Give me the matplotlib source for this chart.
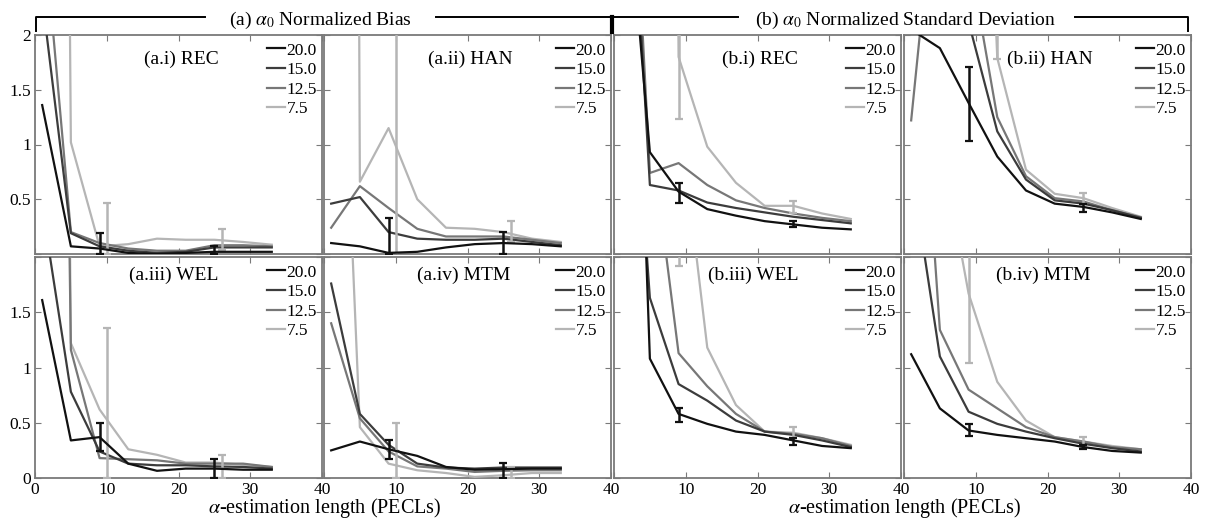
#!/usr/bin/env python3
"""Normalized bias / standard deviation of alpha_0 vs. estimation length, 2x4 panel grid."""

import matplotlib

matplotlib.use("Agg")
import matplotlib.pyplot as plt
from matplotlib.lines import Line2D

plt.rcParams["font.family"] = "serif"
plt.rcParams["font.serif"] = ["Liberation Serif", "DejaVu Serif"]
plt.rcParams["mathtext.fontset"] = "stix"

# ---- data ----
pecl = [1, 5, 9, 13, 17, 21, 25, 29, 33]
series = ["20.0", "15.0", "12.5", "7.5"]

a_rec = [
    [1.36, 0.07, 0.05, 0.01, 0.00, 0.01, 0.02, 0.02, 0.02],
    [2.34, 0.19, 0.07, 0.03, 0.01, 0.02, 0.06, 0.06, 0.06],
    [3.15, 0.20, 0.10, 0.05, 0.03, 0.03, 0.08, 0.08, 0.07],
    [33.0, 1.02, 0.07, 0.09, 0.14, 0.13, 0.13, 0.11, 0.085],
]
a_han = [
    [0.10, 0.07, 0.01, 0.02, 0.06, 0.09, 0.10, 0.09, 0.07],
    [0.46, 0.52, 0.20, 0.14, 0.13, 0.13, 0.14, 0.11, 0.08],
    [0.24, 0.62, 0.42, 0.23, 0.16, 0.16, 0.16, 0.13, 0.10],
    [60.0, 0.66, 1.15, 0.50, 0.24, 0.23, 0.20, 0.14, 0.11],
]
a_wel = [
    [1.61, 0.34, 0.37, 0.13, 0.065, 0.085, 0.085, 0.075, 0.075],
    [2.46, 0.78, 0.24, 0.13, 0.115, 0.115, 0.105, 0.10, 0.085],
    [20.0, 1.16, 0.18, 0.17, 0.16, 0.13, 0.13, 0.13, 0.10],
    [30.0, 1.22, 0.62, 0.26, 0.21, 0.14, 0.14, 0.12, 0.10],
]
a_mtm = [
    [0.25, 0.33, 0.26, 0.20, 0.10, 0.075, 0.08, 0.085, 0.085],
    [1.76, 0.58, 0.30, 0.13, 0.095, 0.085, 0.095, 0.095, 0.095],
    [1.40, 0.54, 0.24, 0.105, 0.085, 0.055, 0.065, 0.07, 0.07],
    [6.6, 0.46, 0.13, 0.07, 0.045, 0.01, 0.025, 0.045, 0.045],
]
b_rec = [
    [4.0, 0.93, 0.57, 0.41, 0.35, 0.30, 0.27, 0.24, 0.225],
    [5.2, 0.63, 0.58, 0.47, 0.42, 0.38, 0.34, 0.31, 0.28],
    [5.8, 0.74, 0.83, 0.63, 0.49, 0.42, 0.37, 0.33, 0.30],
    [40.0, 40.0, 1.80, 0.98, 0.65, 0.44, 0.44, 0.37, 0.32],
]
b_han = [
    [2.05, 1.88, 1.38, 0.89, 0.58, 0.46, 0.43, 0.38, 0.32],
    [8.0, 6.0, 2.12, 1.12, 0.68, 0.49, 0.46, 0.40, 0.33],
    [1.22, 3.82, 2.75, 1.25, 0.71, 0.51, 0.48, 0.40, 0.335],
    [8.0, 8.0, 8.0, 1.79, 0.77, 0.55, 0.51, 0.42, 0.34],
]
b_wel = [
    [8.4, 1.08, 0.58, 0.49, 0.42, 0.39, 0.34, 0.29, 0.27],
    [5.3, 1.63, 0.85, 0.70, 0.52, 0.42, 0.39, 0.34, 0.28],
    [8.0, 3.18, 1.13, 0.83, 0.58, 0.42, 0.40, 0.36, 0.29],
    [8.0, 8.0, 3.37, 1.18, 0.66, 0.42, 0.41, 0.36, 0.30],
]
b_mtm = [
    [1.12, 0.63, 0.43, 0.39, 0.36, 0.33, 0.28, 0.245, 0.23],
    [2.81, 1.10, 0.60, 0.49, 0.42, 0.36, 0.31, 0.27, 0.24],
    [5.1, 1.34, 0.80, 0.63, 0.46, 0.37, 0.33, 0.28, 0.26],
    [8.0, 3.09, 1.67, 0.87, 0.52, 0.37, 0.33, 0.29, 0.26],
]

# error bars: (pecl, low, high, series index)
a_rec_err = [(9, 0.0, 0.19, 0), (25, 0.0, 0.07, 0), (10, 0.0, 0.47, 3), (26, 0.04, 0.23, 3)]
a_han_err = [(9, 0.0, 0.33, 0), (25, 0.0, 0.20, 0), (10, -0.2, 2.5, 3), (26, 0.11, 0.30, 3)]
a_wel_err = [(9, 0.24, 0.50, 0), (25, 0.0, 0.17, 0), (10, 0.0, 1.36, 3), (26, 0.0, 0.21, 3)]
a_mtm_err = [(9, 0.17, 0.34, 0), (25, 0.0, 0.14, 0), (10, 0.0, 0.50, 3), (26, 0.0, 0.10, 3)]
b_rec_err = [(9, 0.47, 0.65, 0), (25, 0.25, 0.30, 0), (9, 1.23, 2.4, 3), (25, 0.37, 0.48, 3)]
b_han_err = [(9, 1.03, 1.71, 0), (25, 0.38, 0.46, 0), (13, 1.78, 2.6, 3), (25, 0.46, 0.56, 3)]
b_wel_err = [(9, 0.51, 0.63, 0), (25, 0.30, 0.36, 0), (9, 1.92, 2.6, 3), (25, 0.36, 0.46, 3)]
b_mtm_err = [(9, 0.38, 0.49, 0), (25, 0.26, 0.30, 0), (9, 1.04, 2.6, 3), (25, 0.28, 0.37, 3)]

panel_titles = [
    ["(a.i) REC", "(a.ii) HAN", "(b.i) REC", "(b.ii) HAN"],
    ["(a.iii) WEL", "(a.iv) MTM", "(b.iii) WEL", "(b.iv) MTM"],
]
panel_data = [[a_rec, a_han, b_rec, b_han], [a_wel, a_mtm, b_wel, b_mtm]]
panel_err = [
    [a_rec_err, a_han_err, b_rec_err, b_han_err],
    [a_wel_err, a_mtm_err, b_wel_err, b_mtm_err],
]

colors = ["#111111", "#3c3c3c", "#777777", "#b5b5b5"]
frame = "#7a7a7a"

W, H = 1211, 527
fig = plt.figure(figsize=(W / 100, H / 100), dpi=100)

col_left = [35, 324, 614, 904]
col_w = 287
row_span = [(35, 254), (257, 478)]

for r in range(2):
    top, bot = row_span[r]
    for c in range(4):
        ax = fig.add_axes([col_left[c] / W, 1 - bot / H, col_w / W, (bot - top) / H])
        vals = panel_data[r][c]
        for i in range(3, -1, -1):
            ax.plot(pecl, vals[i], color=colors[i], lw=1.6, label=series[i], zorder=3 + (3 - i))
        for x, lo, hi, si in panel_err[r][c]:
            mid = (lo + hi) / 2
            ax.errorbar([x], [mid], yerr=[[mid - lo], [hi - mid]], fmt="none",
                        ecolor=colors[si], elinewidth=1.8, capsize=3, capthick=1.6,
                        zorder=8 - si)
        ax.set_xlim(0, 40)
        ax.set_ylim(0, 2)
        ax.set_xticks([0, 10, 20, 30, 40])
        ax.set_yticks([0, 0.5, 1, 1.5, 2])
        ax.tick_params(direction="in", length=4, width=0.8, color=frame,
                       top=True, right=True, labelsize=12.5, pad=3)
        for s in ax.spines.values():
            s.set_color(frame)
            s.set_linewidth(1.3)

        if c == 0:
            if r == 0:
                ax.set_yticklabels(["", "0.5", "1", "1.5", "2"])
            else:
                ax.set_yticklabels(["0", "0.5", "1", "1.5", ""])
        else:
            ax.tick_params(labelleft=False)
        if r == 1:
            if c == 0:
                ax.set_xticklabels(["0", "10", "20", "30", "40"])
            else:
                ax.set_xticklabels(["", "10", "20", "30", "40"])
        else:
            ax.tick_params(labelbottom=False)

        tx = 0.51 if r == 0 else 0.485
        ty = 0.89 if r == 0 else 0.915
        ax.text(tx, ty, panel_titles[r][c], transform=ax.transAxes,
                ha="center", va="center", fontsize=14)

        h, lab = ax.get_legend_handles_labels()
        ax.legend(h[::-1], lab[::-1], loc="upper right", bbox_to_anchor=(1.0, 0.99),
                  frameon=False, fontsize=12.5, handlelength=1.0, handletextpad=0.1,
                  labelspacing=0.2, borderaxespad=0.1, borderpad=0.2)


def fig_line(xs, ys, lw=1.4, color="black"):
    fig.add_artist(Line2D([x / W for x in xs], [1 - y / H for y in ys],
                          transform=fig.transFigure, color=color, lw=lw))


# header brackets
fig_line([36, 36, 205], [31, 17, 17])
fig_line([436, 612], [17, 17])
fig_line([612, 612], [17, 32], lw=3)
fig_line([614, 738], [17, 17])
fig_line([1075, 1188, 1188], [17, 17, 31])
fig.text(320 / W, 1 - 20 / H, r"(a) $\alpha_0$ Normalized Bias", ha="center", va="center", fontsize=14)
fig.text(905 / W, 1 - 20 / H, r"(b) $\alpha_0$ Normalized Standard Deviation", ha="center", va="center", fontsize=14)

fig.text(325 / W, 1 - 508 / H, r"$\alpha$-estimation length (PECLs)", ha="center", va="center", fontsize=14.5)
fig.text(905 / W, 1 - 508 / H, r"$\alpha$-estimation length (PECLs)", ha="center", va="center", fontsize=14.5)

fig.savefig("out.png", dpi=100)
plt.close(fig)
